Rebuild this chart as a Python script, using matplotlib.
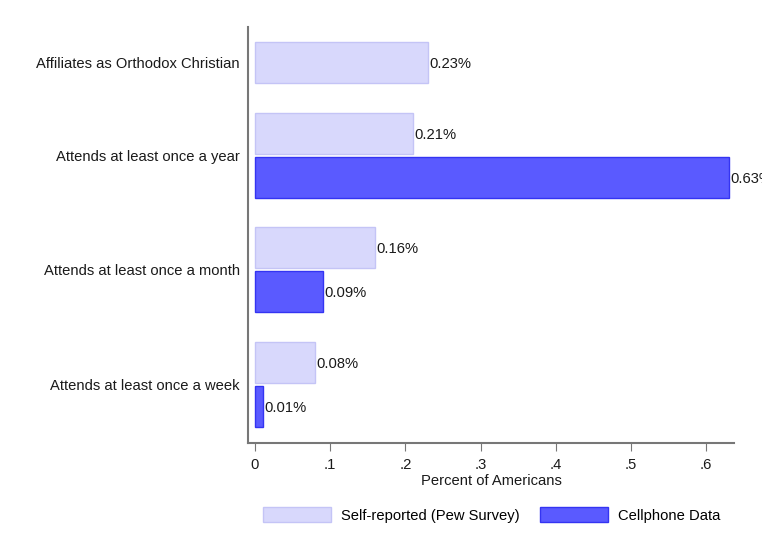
import matplotlib
matplotlib.use("Agg")
import numpy as np
import matplotlib.pyplot as plt

plt.rcParams['font.family'] = ['Liberation Sans', 'DejaVu Sans']

# data
categories = ['Affiliates as Orthodox Christian', 'Attends at least once a year',
              'Attends at least once a month', 'Attends at least once a week']
pew = [0.23, 0.21, 0.16, 0.08]
cell = [np.nan, 0.63, 0.09, 0.01]
xticks = [0, 0.1, 0.2, 0.3, 0.4, 0.5, 0.6]
xticklabels = ['0', '.1', '.2', '.3', '.4', '.5', '.6']

# vertical layout (orthodox row has only one bar)
ypos = np.array([-0.812, 0.0, 1.0, 2.0])
h = 0.358
off = np.array([0.0, 0.192, 0.192, 0.192])

pew_face, pew_edge = '#d8d8fc', '#c4c4f6'
cell_face, cell_edge = '#5a5aff', '#3434f2'
fs = 10.6

fig = plt.figure(figsize=(7.62, 5.57), dpi=100)
ax = fig.add_axes([0.3255, 0.2047, 0.9633 - 0.3255, 0.9515 - 0.2047])

ax.barh(ypos - off, pew, height=h, color=pew_face, edgecolor=pew_edge, linewidth=1,
        label='Self-reported (Pew Survey)')
ax.barh(ypos[1:] + off[1:], cell[1:], height=h, color=cell_face, edgecolor=cell_edge,
        linewidth=1, label='Cellphone Data')

for y, v in zip(ypos - off, pew):
    ax.text(v + 0.002, y + 0.01, f'{v:.2f}%', va='center', ha='left', fontsize=fs, color='#1a1a1a')
for y, v in zip(ypos[1:] + off[1:], cell[1:]):
    ax.text(v + 0.002, y + 0.01, f'{v:.2f}%', va='center', ha='left', fontsize=fs, color='#1a1a1a',
            clip_on=False)

ax.set_xlim(-0.0093, 0.637)
ax.set_ylim(2.511, -1.122)
ax.set_yticks(ypos)
ax.set_yticklabels(categories, fontsize=fs, color='#1a1a1a')
ax.tick_params(axis='y', length=0, pad=6)
ax.set_xticks(xticks)
ax.set_xticklabels(xticklabels, fontsize=fs, color='#1a1a1a')
ax.tick_params(axis='x', length=6, color='#777777', pad=5)
ax.set_xlabel('Percent of Americans', fontsize=fs, color='#1a1a1a', labelpad=1)

for s in ['top', 'right']:
    ax.spines[s].set_visible(False)
for s in ['left', 'bottom']:
    ax.spines[s].set_color('#777777')
    ax.spines[s].set_linewidth(1.5)

fig.legend(loc='center', bbox_to_anchor=(492 / 762, 1 - 515 / 557), ncol=2, frameon=False,
           fontsize=fs, handlelength=4.6, handleheight=1.2, handletextpad=0.7,
           columnspacing=1.4)

fig.savefig('out.png', dpi=100)
